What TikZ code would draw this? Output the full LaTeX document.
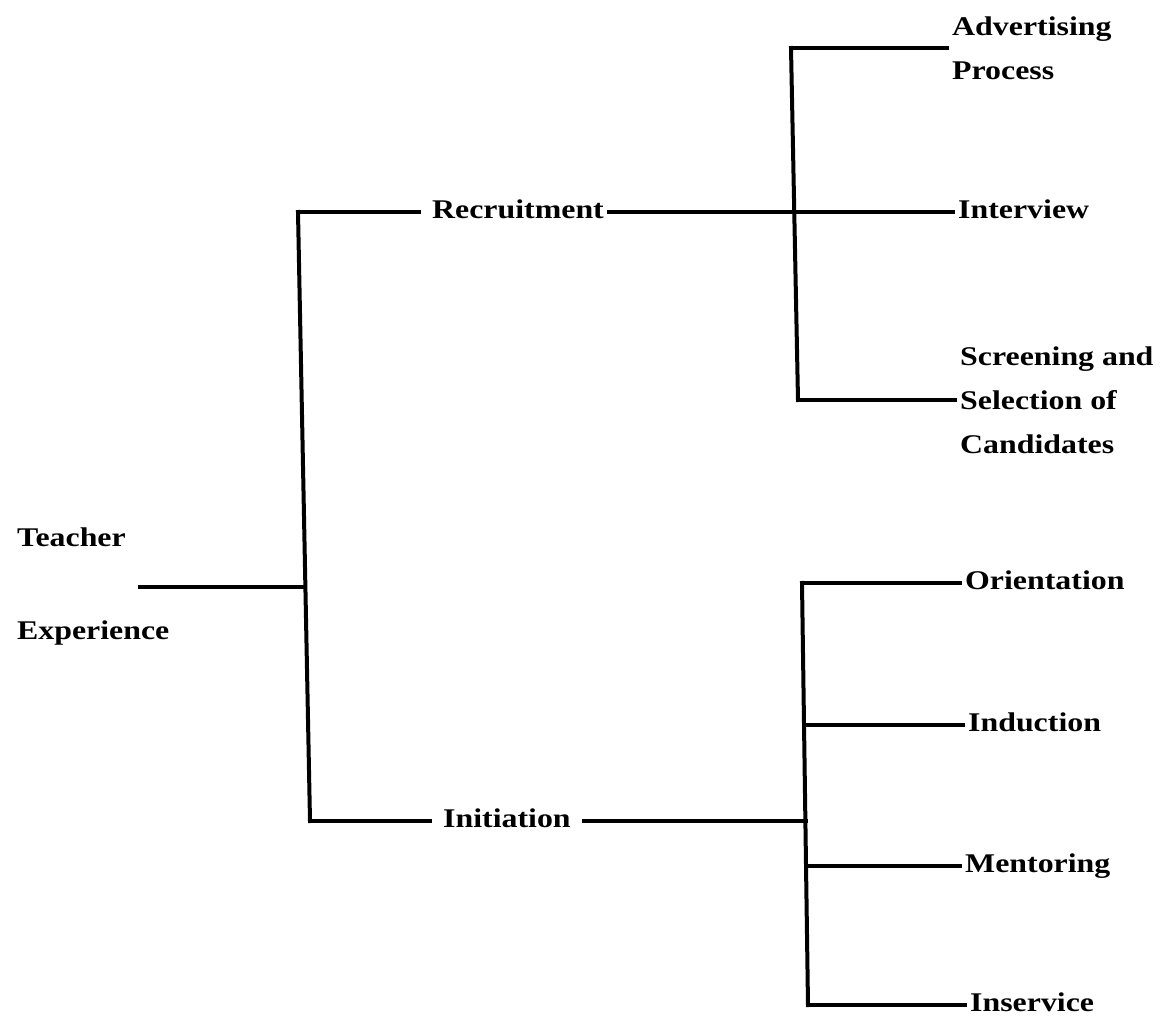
\documentclass[tikz,border=0pt]{standalone}
\usepackage{fontspec}
\newfontfamily\lblfont[FakeStretch=1.18]{Liberation Serif}
\tikzset{
  lblbase/.style={anchor=west, inner xsep=5pt, inner ysep=0pt,
    font=\lblfont\bfseries\fontsize{27}{44}\selectfont, align=left},
  lbl/.style={lblbase, text height=18.4pt, text depth=6pt},
  lblmulti/.style={lblbase},
  bar/.style={line width=4pt, line cap=rect, black}
}
\begin{document}
\begin{tikzpicture}[x=1pt,y=-1pt]
\useasboundingbox (0,0) rectangle (1165,1019);

% labels
\node[lbl] (teacher)    at (12,540)  {Teacher};
\node[lbl] (experience) at (12,633)  {Experience};
\node[lbl] (recruit)    at (427,212) {Recruitment};
\node[lbl] (initiation) at (438,821) {Initiation};
\node[lblmulti] (advert) at (947,48) {Advertising\\Process};
\node[lbl] (interview)  at (953,212) {Interview};
\node[lblmulti] (screen) at (955,400) {Screening and\\Selection of\\Candidates};
\node[lbl] (orient)     at (960,583) {Orientation};
\node[lbl] (induct)     at (963,725) {Induction};
\node[lbl] (mentor)     at (960,866) {Mentoring};
\node[lbl] (inserv)     at (965,1005){Inservice};

% junction points
\coordinate (te) at (140,587);
\coordinate (mj) at (305,587);
\coordinate (mt) at (298,212);
\coordinate (mb) at (310,821);
\coordinate (rt) at (791,48);
\coordinate (rb) at (798,400);
\coordinate (it) at (802,583);
\coordinate (ij) at (805.5,821);
\coordinate (ind) at (804,725);
\coordinate (men) at (806,866);
\coordinate (ib) at (808,1005);

% root
\draw[bar] (te) -- (mj);
\draw[bar] (mt) -- (mb);

% recruitment branch
\draw[bar, shorten >=8pt] (mt) -- (recruit);
\draw[bar] (recruit) -- (interview);
\draw[bar] (rt) -- (rb);
\draw[bar] (rt) -- (rt -| advert.west);
\draw[bar] (rb) -- (rb -| screen.west);

% initiation branch
\draw[bar, shorten >=8pt] (mb) -- (initiation);
\draw[bar, shorten <=8pt] (initiation) -- (ij);
\draw[bar] (it) -- (ib);
\draw[bar] (it) -- (orient);
\draw[bar] (ind) -- (induct);
\draw[bar] (men) -- (mentor);
\draw[bar] (ib) -- (inserv);
\end{tikzpicture}
\end{document}
